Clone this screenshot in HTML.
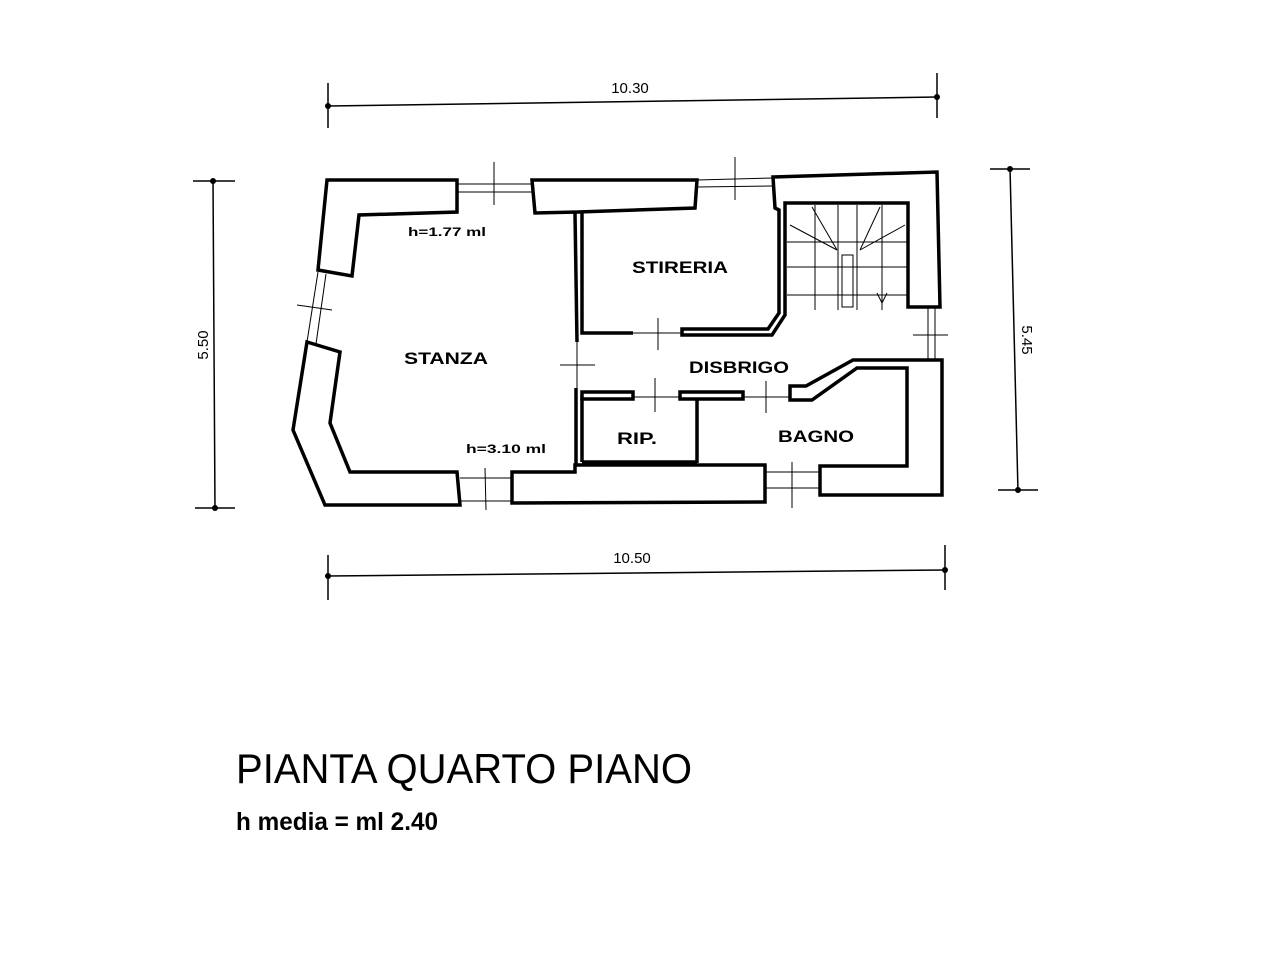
<!DOCTYPE html>
<html><head><meta charset="utf-8"><style>
html,body{margin:0;padding:0;background:#fff;}
svg{display:block;}
text{font-family:"Liberation Sans",sans-serif;}
</style></head><body>
<svg width="1280" height="960" viewBox="0 0 1280 960" xmlns="http://www.w3.org/2000/svg">
<rect width="1280" height="960" fill="#fff"/>
<!-- dimension lines -->
<g stroke="#000" stroke-width="1.5" fill="none">
  <line x1="328" y1="106" x2="937" y2="97"/>
  <line x1="328" y1="83" x2="328" y2="128"/>
  <line x1="937" y1="73" x2="937" y2="118"/>
  <line x1="328" y1="576" x2="945" y2="570"/>
  <line x1="328" y1="555" x2="328" y2="600"/>
  <line x1="945" y1="545" x2="945" y2="590"/>
  <line x1="213" y1="180" x2="215" y2="510"/>
  <line x1="193" y1="181" x2="235" y2="181"/>
  <line x1="195" y1="508" x2="235" y2="508"/>
  <line x1="1010" y1="168" x2="1018" y2="492"/>
  <line x1="990" y1="169" x2="1030" y2="169"/>
  <line x1="998" y1="490" x2="1038" y2="490"/>
</g>
<g fill="#000">
  <circle cx="328" cy="106" r="3"/><circle cx="937" cy="97" r="3"/>
  <circle cx="328" cy="576" r="3"/><circle cx="945" cy="570" r="3"/>
  <circle cx="213" cy="181" r="3"/><circle cx="215" cy="508" r="3"/>
  <circle cx="1010" cy="169" r="3"/><circle cx="1018" cy="490" r="3"/>
</g>
<text x="630" y="93" font-size="15" text-anchor="middle">10.30</text>
<text x="632" y="563" font-size="15" text-anchor="middle">10.50</text>
<text x="0" y="0" font-size="15" text-anchor="middle" transform="translate(208,345) rotate(-90)">5.50</text>
<text x="0" y="0" font-size="15" text-anchor="middle" transform="translate(1022,340) rotate(90)">5.45</text>

<!-- walls -->
<g fill="#fff" stroke="#000" stroke-width="3.5" stroke-linejoin="miter">
  <polygon points="327,180 457,180 457,212 359,215 352,276 318,270"/>
  <polygon points="307,342 340,352 330,423 350,472 457,472 460,505 325,505 293,430"/>
  <polygon points="512,472 575,472 575,465 765,465 765,502 512,503"/>
  <polygon points="532,180 697,180 695,208 578,212 535,213"/>
  <polygon points="773,177 937,172 940,307 908,307 908,203 785,203 785,315 772,335 682,335 682,329 768,329 779,313 779,210 775,208"/>
  <polygon points="790,386 806,386 853,360 942,360 942,495 820,495 820,466 907,466 907,368 857,368 812,400 790,400"/>
</g>
<g stroke="#000" stroke-width="3.5" fill="none">
  <polyline points="575,213 577,342"/>
  <polyline points="582,213 582,333 633,333"/>
  <polyline points="576,388 576,465"/>
  <polyline points="582,395 582,462"/>
  <rect x="582" y="392" width="51" height="7" fill="#fff"/>
  <rect x="680" y="392" width="63" height="7" fill="#fff"/>
  <line x1="697" y1="399" x2="697" y2="463"/>
  <line x1="582" y1="462" x2="697" y2="462"/>
</g>
<!-- stair -->
<g stroke="#000" stroke-width="1" fill="none">
  <line x1="787" y1="242" x2="908" y2="242"/>
  <line x1="787" y1="267" x2="908" y2="267"/>
  <line x1="787" y1="295" x2="908" y2="295"/>
  <line x1="815" y1="205" x2="815" y2="310"/>
  <line x1="838" y1="205" x2="838" y2="310"/>
  <line x1="857" y1="205" x2="857" y2="310"/>
  <line x1="882" y1="205" x2="882" y2="310"/>
  <rect x="842" y="255" width="11" height="52"/>
  <line x1="837" y1="250" x2="790" y2="225"/>
  <line x1="837" y1="250" x2="812" y2="207"/>
  <line x1="860" y1="250" x2="905" y2="225"/>
  <line x1="860" y1="250" x2="880" y2="207"/>
  <line x1="882" y1="290" x2="882" y2="305"/>
  <polyline points="877,293 882,303 887,293"/>
</g>
<!-- door/window marks -->
<g stroke="#000" stroke-width="1" fill="none">
  <line x1="457" y1="184" x2="532" y2="184"/><line x1="457" y1="192" x2="532" y2="192"/>
  <line x1="494" y1="162" x2="494" y2="205"/>
  <line x1="697" y1="180" x2="773" y2="178"/><line x1="697" y1="187" x2="773" y2="186"/>
  <line x1="735" y1="157" x2="735" y2="200"/>
  <line x1="318" y1="272" x2="307" y2="342"/><line x1="326" y1="274" x2="316" y2="344"/>
  <line x1="297" y1="305" x2="332" y2="310"/>
  <line x1="460" y1="478" x2="512" y2="478"/><line x1="460" y1="501" x2="512" y2="501"/>
  <line x1="485" y1="468" x2="486" y2="510"/>
  <line x1="765" y1="472" x2="820" y2="472"/><line x1="765" y1="488" x2="820" y2="488"/>
  <line x1="792" y1="462" x2="792" y2="508"/>
  <line x1="633" y1="333" x2="682" y2="333"/><line x1="658" y1="318" x2="658" y2="350"/>
  <line x1="633" y1="397" x2="680" y2="397"/><line x1="655" y1="378" x2="655" y2="412"/>
  <line x1="743" y1="397" x2="790" y2="397"/><line x1="766" y1="381" x2="766" y2="413"/>
  <line x1="577" y1="342" x2="577" y2="388"/><line x1="560" y1="365" x2="595" y2="365"/>
  <line x1="928" y1="307" x2="928" y2="360"/><line x1="935" y1="307" x2="935" y2="360"/>
  <line x1="913" y1="335" x2="948" y2="335"/>
</g>
<!-- labels -->
<g font-weight="bold" fill="#000">
  <text x="446" y="364" font-size="17" text-anchor="middle" textLength="84" lengthAdjust="spacingAndGlyphs">STANZA</text>
  <text x="680" y="273" font-size="17" text-anchor="middle" textLength="96" lengthAdjust="spacingAndGlyphs">STIRERIA</text>
  <text x="739" y="373" font-size="17" text-anchor="middle" textLength="100" lengthAdjust="spacingAndGlyphs">DISBRIGO</text>
  <text x="637" y="444" font-size="17" text-anchor="middle" textLength="40" lengthAdjust="spacingAndGlyphs">RIP.</text>
  <text x="816" y="442" font-size="17" text-anchor="middle" textLength="76" lengthAdjust="spacingAndGlyphs">BAGNO</text>
  <text x="408" y="236" font-size="12" textLength="78" lengthAdjust="spacingAndGlyphs">h=1.77 ml</text>
  <text x="466" y="453" font-size="12" textLength="80" lengthAdjust="spacingAndGlyphs">h=3.10 ml</text>
</g>
<text x="236" y="783" font-size="42" textLength="456" lengthAdjust="spacingAndGlyphs">PIANTA QUARTO PIANO</text>
<text x="236" y="830" font-size="25" font-weight="bold" textLength="202" lengthAdjust="spacingAndGlyphs">h media = ml 2.40</text>
</svg>
</body></html>
